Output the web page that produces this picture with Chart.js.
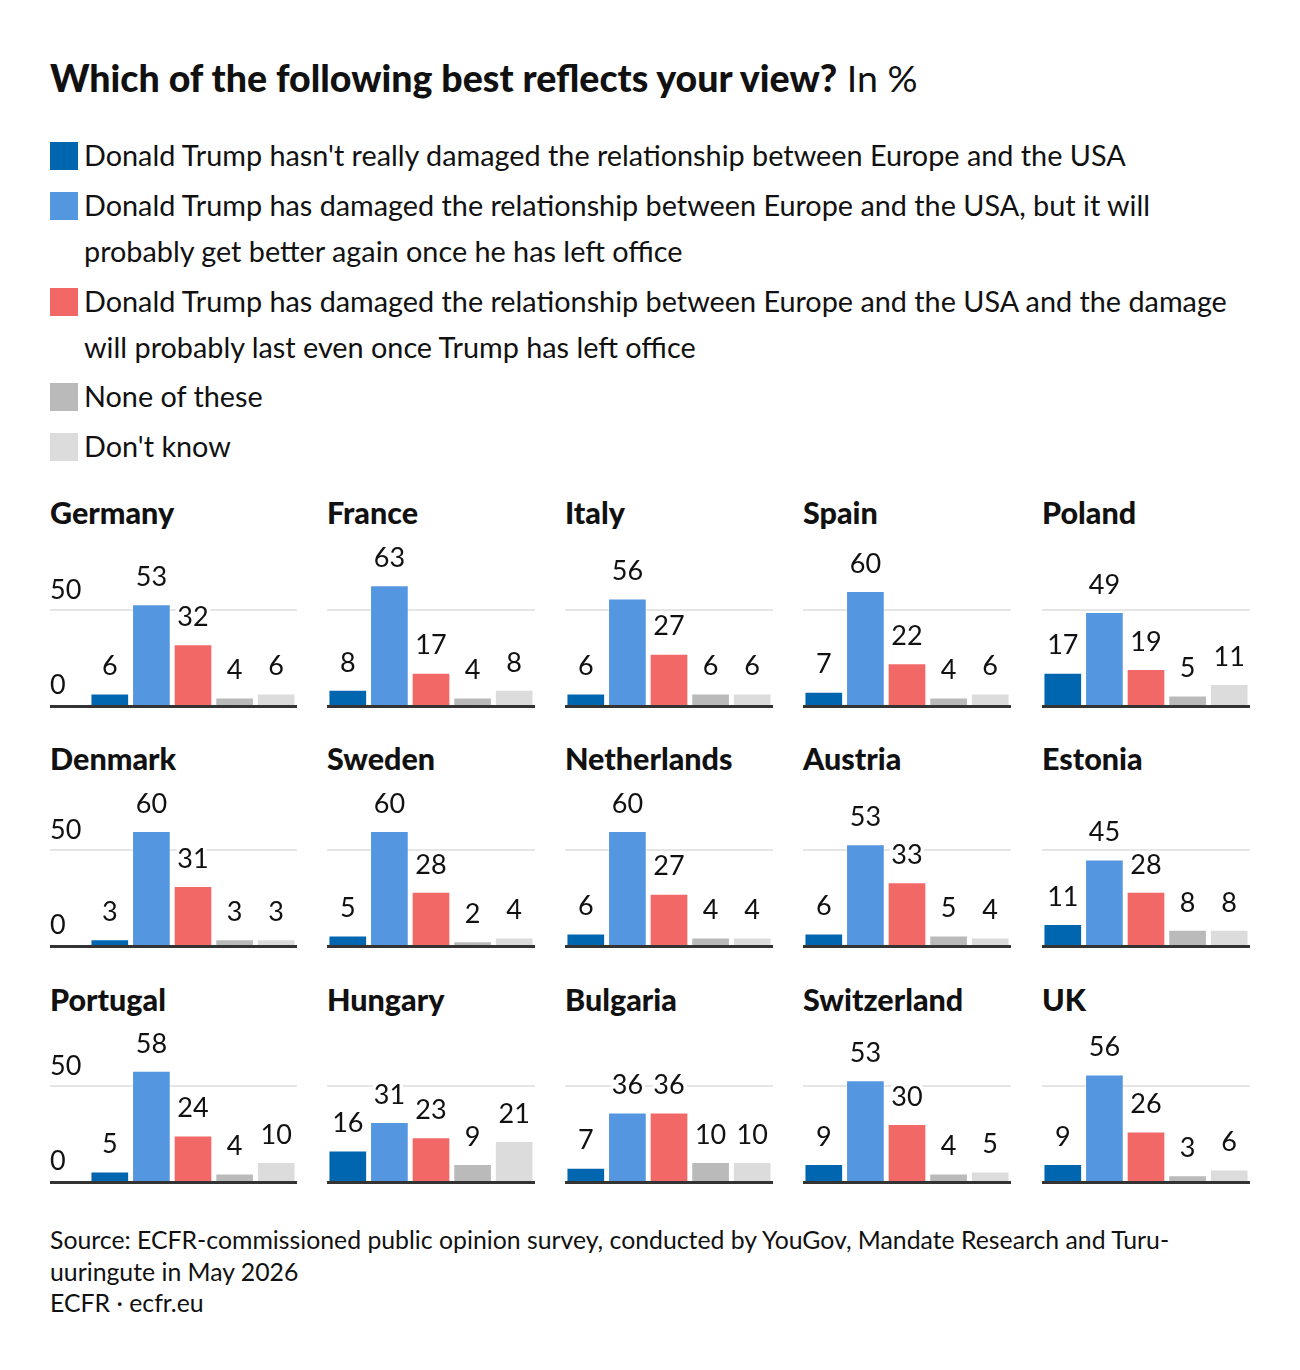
<!DOCTYPE html>
<html>
<head>
<meta charset="utf-8">
<script src="https://cdn.jsdelivr.net/npm/chart.js@4.4.0/dist/chart.umd.min.js"></script>
<style>
  body { margin: 0; background: #fff; }
  #page { position: relative; width: 1300px; height: 1370px; overflow: hidden; font-family: Lato, sans-serif; color: #111; }
  .title { position: absolute; left: 50px; top: 57px; font-size: 37.5px; line-height: 42px; white-space: nowrap; }
  .title b { font-weight: 900; }
  .legend-item { position: absolute; left: 50px; font-size: 28.8px; line-height: 46px; white-space: nowrap; }
  .legend-item .sw { position: absolute; left: 0; top: 9px; width: 28px; height: 28px; }
  .legend-item .txt { position: absolute; left: 34px; top: -1px; }
  .panel-title { position: absolute; font-size: 30.5px; font-weight: 900; line-height: 34px; white-space: nowrap; }
  .panel { position: absolute; }
  .source { position: absolute; left: 50px; top: 1224px; font-size: 24.8px; line-height: 31.5px; white-space: nowrap; }
</style>
</head>
<body>
<div id="page"></div>
<script>
const countries = ["Germany", "France", "Italy", "Spain", "Poland",
  "Denmark", "Sweden", "Netherlands", "Austria", "Estonia",
  "Portugal", "Hungary", "Bulgaria", "Switzerland", "UK"];

const notDamaged    = [6, 8, 6, 7, 17, 3, 5, 6, 6, 11, 5, 16, 7, 9, 9];
const damagedBetter = [53, 63, 56, 60, 49, 60, 60, 60, 53, 45, 58, 31, 36, 53, 56];
const damagedLast   = [32, 17, 27, 22, 19, 31, 28, 27, 33, 28, 24, 23, 36, 30, 26];
const noneOfThese   = [4, 4, 6, 4, 5, 3, 2, 4, 5, 8, 4, 9, 10, 4, 3];
const dontKnow      = [6, 8, 6, 6, 11, 3, 4, 4, 4, 8, 10, 21, 10, 5, 6];

const answers = [
  "Donald Trump hasn't really damaged the relationship between Europe and the USA",
  "Donald Trump has damaged the relationship between Europe and the USA, but it will<br>probably get better again once he has left office",
  "Donald Trump has damaged the relationship between Europe and the USA and the damage<br>will probably last even once Trump has left office",
  "None of these",
  "Don't know",
];
const answerColors = ["#0066b0", "#5596e1", "#f26866", "#bababa", "#dcdcdc"];
const yTicks = [0, 50];

const page = document.getElementById("page");

// header
const title = document.createElement("div");
title.className = "title";
title.innerHTML = "<b>Which of the following best reflects your view?</b> In %";
page.appendChild(title);

// legend
const legendTops = [133, 183, 279, 374, 424];
answers.forEach((a, i) => {
  const item = document.createElement("div");
  item.className = "legend-item";
  item.style.top = legendTops[i] + "px";
  item.innerHTML = `<span class="sw" style="background:${answerColors[i]}"></span><span class="txt">${a}</span>`;
  page.appendChild(item);
});

// source
const source = document.createElement("div");
source.className = "source";
source.innerHTML = "Source: ECFR-commissioned public opinion survey, conducted by YouGov, Mandate Research and Turu-<br>uuringute in May 2026<br>ECFR · ecfr.eu";
page.appendChild(source);

const panelDecor = {
  id: "panelDecor",
  beforeDatasetsDraw(chart, args, opts) {
    const { ctx, width, scales: { y } } = chart;
    ctx.save();
    ctx.strokeStyle = "#e5e5e5";
    ctx.lineWidth = 2;
    yTicks.filter((t) => t !== 0).forEach((t) => {
      const py = Math.round(y.getPixelForValue(t));
      ctx.beginPath();
      ctx.moveTo(0, py);
      ctx.lineTo(width, py);
      ctx.stroke();
    });
    if (opts.showTicks) {
      ctx.fillStyle = "#111";
      ctx.font = "27px Lato";
      ctx.textAlign = "left";
      ctx.textBaseline = "middle";
      yTicks.forEach((t) => {
        ctx.fillText(String(t), 0, y.getPixelForValue(t) - 20);
      });
    }
    ctx.restore();
  },
  afterDatasetsDraw(chart) {
    const { ctx, width, scales: { y } } = chart;
    ctx.save();
    const y0 = y.getPixelForValue(0);
    ctx.strokeStyle = "#333";
    ctx.lineWidth = 3;
    ctx.beginPath();
    ctx.moveTo(0, y0 + 1.5);
    ctx.lineTo(width, y0 + 1.5);
    ctx.stroke();

    const meta = chart.getDatasetMeta(0);
    const values = chart.data.datasets[0].data;
    ctx.font = "27px Lato";
    ctx.textAlign = "center";
    ctx.textBaseline = "middle";
    ctx.lineJoin = "round";
    meta.data.forEach((bar, i) => {
      const ly = bar.y - 27;
      ctx.strokeStyle = "#fff";
      ctx.lineWidth = 7;
      ctx.strokeText(String(values[i]), bar.x, ly);
      ctx.fillStyle = "#111";
      ctx.fillText(String(values[i]), bar.x, ly);
    });
    ctx.restore();
  },
};

const rowBase = [705, 945, 1181];
const titleCenter = [512, 758, 999];
const colLeft = [89, 327, 565, 803, 1042];
const titleLeft = [50, 327, 565, 803, 1042];
const plotW = 208;
const plotH = 171;   // 90 units at 1.9 px each
const padBottom = 5;

countries.forEach((name, i) => {
  const row = Math.floor(i / 5);
  const col = i % 5;

  const t = document.createElement("div");
  t.className = "panel-title";
  t.textContent = name;
  t.style.left = titleLeft[col] + "px";
  t.style.top = (titleCenter[row] - 17) + "px";
  page.appendChild(t);

  const padLeft = col === 0 ? colLeft[0] - titleLeft[0] : 0;
  const w = plotW + padLeft;
  const h = plotH + padBottom;
  const canvas = document.createElement("canvas");
  canvas.className = "panel";
  canvas.width = w;
  canvas.height = h;
  canvas.style.width = w + "px";
  canvas.style.height = h + "px";
  canvas.style.left = (colLeft[col] - padLeft) + "px";
  canvas.style.top = (rowBase[row] - plotH) + "px";
  page.appendChild(canvas);

  new Chart(canvas, {
    type: "bar",
    data: {
      labels: ["notDamaged", "damagedBetter", "damagedLast", "none", "dontKnow"],
      datasets: [{
        data: [notDamaged[i], damagedBetter[i], damagedLast[i], noneOfThese[i], dontKnow[i]],
        backgroundColor: answerColors,
        borderColor: "rgba(255,255,255,0.35)",
        borderWidth: 1,
        categoryPercentage: 1,
        barPercentage: 0.93,
      }],
    },
    options: {
      responsive: false,
      animation: false,
      layout: { padding: { left: padLeft, right: 0, top: 0, bottom: padBottom } },
      plugins: {
        legend: { display: false },
        tooltip: { enabled: false },
        panelDecor: { showTicks: col === 0 },
      },
      scales: {
        x: { display: false },
        y: { display: false, min: 0, max: 90 },
      },
    },
    plugins: [panelDecor],
  });
});
</script>
</body>
</html>
